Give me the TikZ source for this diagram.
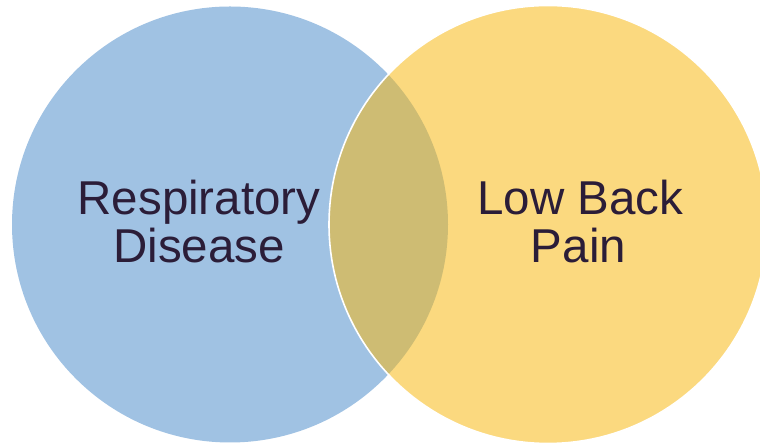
\documentclass[tikz,border=0pt]{standalone}
\usepackage{fontspec}
\setmainfont{Liberation Sans}
\definecolor{vblue}{RGB}{160,194,227}
\definecolor{vyellow}{RGB}{251,217,127}
\definecolor{vlens}{RGB}{206,188,115}
\definecolor{vtext}{RGB}{43,29,56}
\tikzset{
  lbl/.style={text=vtext, font=\fontsize{47.5}{48}\selectfont, inner sep=0pt, anchor=base}
}
\begin{document}
\begin{tikzpicture}[x=1pt,y=1pt]
\useasboundingbox (0,0) rectangle (760,443);
\coordinate (L) at (230,218.5);
\coordinate (R) at (548,218.5);
\fill[vblue] (L) circle (218);
\fill[vyellow] (R) circle (219);
\begin{scope}
  \clip (L) circle (218);
  \fill[vlens] (R) circle (219);
\end{scope}
\draw[white, line width=1.6pt] (R) circle (219);
\node[lbl] (resp) at (199,228) {Respiratory};
\node[lbl] (dis) at (199,180.3) {Disease};
\node[lbl] (low) at (580.5,228) {Low Back};
\node[lbl] (pain) at (578.5,180.3) {Pain};
\end{tikzpicture}
\end{document}
